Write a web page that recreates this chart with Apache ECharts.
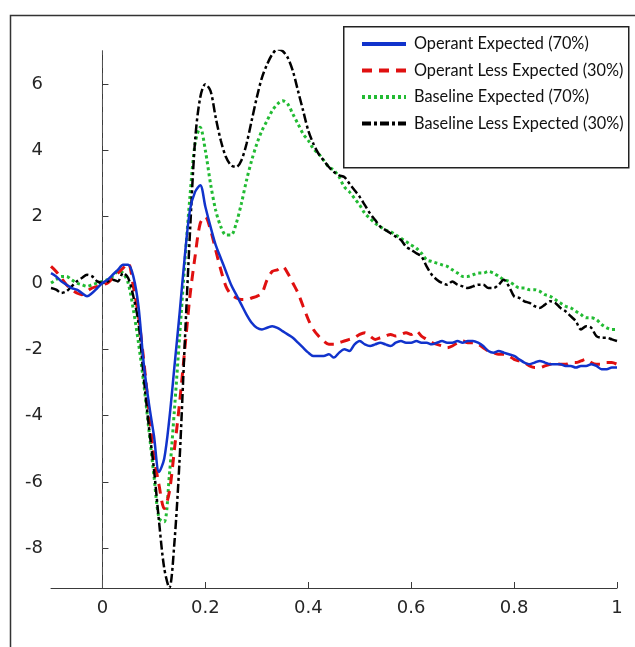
<!DOCTYPE html>
<html>
<head>
<meta charset="utf-8">
<script src="https://cdn.jsdelivr.net/npm/echarts@6/dist/echarts.min.js"></script>
<style>
  html, body { margin: 0; padding: 0; background: #fff; }
  #chart { width: 635px; height: 647px; }
</style>
</head>
<body>
<div id="chart"></div>
<script>
// time axis, -0.1 .. 1.0 in 0.01 steps
const times = [];
for (let i = -10; i <= 100; i++) times.push(+(i / 100).toFixed(2));

const seriesNames = ['Operant Expected (70%)', 'Operant Less Expected (30%)', 'Baseline Expected (70%)', 'Baseline Less Expected (30%)'];
const xTicks = [0, 0.2, 0.4, 0.6, 0.8, 1];
const yTicks = [-8, -6, -4, -2, 0, 2, 4, 6];
// stimulus onset marker (t = 0) spanning the y range
const onsetLine = [[0, -9.2], [0, 7.1]];

const operantExpected = [
  0.3, 0.2, 0.05, -0.05, -0.15, -0.2, -0.3, -0.4, -0.3, -0.15,
  0.0, 0.1, 0.25, 0.4, 0.55, 0.55, 0.2, -0.7, -2.4, -3.6,
  -4.6, -5.7, -5.3, -4.1, -2.5, -0.9, 0.8, 2.2, 2.75, 2.95,
  2.3, 1.7, 1.15, 0.75, 0.35, -0.05, -0.35, -0.65, -0.95, -1.2,
  -1.35, -1.4, -1.35, -1.3, -1.35, -1.45, -1.55, -1.65, -1.8, -1.95,
  -2.1, -2.2, -2.2, -2.2, -2.15, -2.25, -2.1, -2.0, -2.05, -1.85,
  -1.75, -1.85, -1.9, -1.85, -1.8, -1.85, -1.9, -1.8, -1.75, -1.8,
  -1.8, -1.75, -1.8, -1.8, -1.85, -1.8, -1.75, -1.8, -1.8, -1.75,
  -1.8, -1.75, -1.75, -1.8, -1.9, -2.05, -2.1, -2.05, -2.1, -2.15,
  -2.2, -2.3, -2.4, -2.45, -2.4, -2.35, -2.4, -2.45, -2.45, -2.45,
  -2.5, -2.5, -2.55, -2.5, -2.5, -2.45, -2.5, -2.6, -2.6, -2.55,
  -2.55
];
const operantLess = [
  0.5, 0.35, 0.15, -0.05, -0.2, -0.3, -0.35, -0.25, -0.15, -0.1,
  -0.05, 0.0, 0.15, 0.3, 0.45, 0.6, -0.1, -1.0, -2.3, -3.8,
  -5.2, -6.1, -6.8, -6.3, -5.0, -3.6, -2.0, -0.4, 0.8, 1.8,
  2.0, 1.6, 1.0, 0.4, -0.1, -0.35, -0.45, -0.5, -0.5, -0.45,
  -0.4, -0.3, 0.1, 0.35, 0.4, 0.5, 0.3, 0.0, -0.3, -0.7,
  -1.1, -1.4, -1.6, -1.75, -1.85, -1.85, -1.8, -1.75, -1.7, -1.65,
  -1.55, -1.5, -1.6, -1.7, -1.65, -1.6, -1.55, -1.6, -1.55, -1.5,
  -1.55, -1.45, -1.6, -1.7, -1.8, -1.85, -1.9, -1.95, -1.9, -1.8,
  -1.75, -1.8, -1.8, -1.85, -1.95, -2.05, -2.1, -2.15, -2.15, -2.2,
  -2.3, -2.35, -2.4, -2.5, -2.55, -2.55, -2.5, -2.45, -2.4, -2.45,
  -2.45, -2.4, -2.4, -2.35, -2.3, -2.4, -2.45, -2.45, -2.4, -2.4,
  -2.45
];
const baselineExpected = [
  0.0, 0.1, 0.2, 0.2, 0.1, 0.0, -0.05, -0.1, -0.05, 0.0,
  0.05, 0.1, 0.2, 0.35, 0.3, 0.0, -0.8, -1.8, -3.0, -4.4,
  -5.8, -7.1, -7.2, -5.8, -3.8, -1.6, 0.6, 2.6, 4.2, 4.7,
  4.0, 3.0, 2.2, 1.7, 1.45, 1.45, 1.8, 2.4, 3.1, 3.7,
  4.2, 4.6, 4.9, 5.2, 5.4, 5.5, 5.4, 5.1, 4.8, 4.5,
  4.3, 4.05, 3.9, 3.7, 3.5, 3.4, 3.2, 2.9, 2.75, 2.55,
  2.35, 2.1, 1.95, 1.8, 1.7, 1.6, 1.55, 1.45, 1.35, 1.25,
  1.15, 1.05, 0.9, 0.7, 0.65, 0.6, 0.55, 0.5, 0.4, 0.3,
  0.2, 0.2, 0.25, 0.3, 0.3, 0.35, 0.3, 0.2, 0.1, 0.05,
  -0.05, -0.15, -0.15, -0.2, -0.2, -0.25, -0.35, -0.4, -0.5, -0.6,
  -0.7, -0.75, -0.85, -0.95, -1.05, -1.05, -1.1, -1.25, -1.35, -1.4,
  -1.4
];
const baselineLess = [
  -0.15, -0.2, -0.3, -0.25, -0.1, 0.05, 0.15, 0.25, 0.2, 0.05,
  0.0, 0.05, 0.1, 0.05, 0.3, 0.15, -0.4, -1.2, -2.8, -4.3,
  -5.6, -7.2, -8.6, -9.2, -7.8, -5.3, -1.8, 1.5, 4.3, 5.6,
  6.0, 5.8, 5.0, 4.3, 3.8, 3.55, 3.5, 3.7, 4.2, 4.9,
  5.6, 6.2, 6.6, 6.9, 7.05, 7.0, 6.8, 6.4, 5.8, 5.2,
  4.6, 4.2, 3.9, 3.7, 3.5, 3.35, 3.25, 3.2, 3.0, 2.8,
  2.6, 2.35, 2.1, 1.9, 1.7, 1.6, 1.5, 1.4, 1.3, 1.1,
  1.0, 0.9, 0.8, 0.5, 0.25, 0.1, 0.0, -0.05, 0.05, -0.05,
  -0.1, -0.15, -0.1, -0.05, -0.05, -0.15, -0.15, -0.05, 0.1, -0.1,
  -0.4, -0.45, -0.55, -0.6, -0.7, -0.75, -0.65, -0.55, -0.6, -0.75,
  -0.85, -1.0, -1.15, -1.4, -1.3, -1.35, -1.6, -1.65, -1.65, -1.7,
  -1.75
];

const pair = (vals) => vals.map((v, i) => [times[i], v]);
const axisColor = '#3a3a3a';
const labelFont = 'DejaVu Sans';

const chart = echarts.init(document.getElementById('chart'));
chart.setOption({
  animation: false,
  backgroundColor: '#fff',
  grid: { left: 51, right: 18, top: 51, bottom: 59 },
  xAxis: {
    type: 'value',
    min: -0.1,
    max: 1,
    axisLine: { onZero: false, lineStyle: { color: axisColor, width: 1 } },
    axisTick: { inside: true, length: 6, customValues: xTicks, lineStyle: { color: axisColor } },
    axisLabel: {
      customValues: xTicks, margin: 11, color: '#262626', fontSize: 18, fontFamily: labelFont,
      formatter: (v) => String(+v.toFixed(1))
    },
    splitLine: { show: false }
  },
  yAxis: {
    type: 'value',
    min: -9.2,
    max: 7,
    axisLine: { show: true, lineStyle: { color: axisColor, width: 1 } },
    axisTick: { show: true, inside: true, length: 6, customValues: yTicks, lineStyle: { color: axisColor } },
    axisLabel: { customValues: yTicks, margin: 8, color: '#262626', fontSize: 18, fontFamily: labelFont },
    splitLine: { show: false }
  },
  legend: {
    orient: 'vertical',
    left: 355,
    top: 31,
    itemWidth: 44,
    itemHeight: 14,
    itemGap: 10.5,
    z: 10,
    itemStyle: { opacity: 0 },
    lineStyle: { width: 4 },
    textStyle: { fontSize: 16.3, color: '#111', fontFamily: 'Lato', padding: [0, 0, 0, 3] },
    data: seriesNames
  },
  graphic: [
    {
      type: 'rect', left: 8, top: 13, z: 0, silent: true,
      shape: { width: 700, height: 700 },
      style: { fill: 'none', stroke: '#333', lineWidth: 1.5 }
    },
    {
      type: 'rect', left: 343, top: 26, z: 5, silent: true,
      shape: { width: 285, height: 141 },
      style: { fill: '#fff', stroke: '#222', lineWidth: 1.5 }
    }
  ],
  series: [
    {
      name: 'onset', type: 'line', data: onsetLine, symbol: 'none', silent: true, z: 1,
      lineStyle: { color: '#555', width: 1, type: [8, 5] }
    },
    {
      name: seriesNames[0], type: 'line', data: pair(operantExpected), smooth: 0.3,
      symbol: 'none', z: 4,
      lineStyle: { color: '#1133cc', width: 2.5 }, itemStyle: { color: '#1133cc' }
    },
    {
      name: seriesNames[1], type: 'line', data: pair(operantLess), smooth: 0.3,
      symbol: 'none', z: 3,
      lineStyle: { color: '#e01010', width: 3, type: [10, 7] }, itemStyle: { color: '#e01010' }
    },
    {
      name: seriesNames[2], type: 'line', data: pair(baselineExpected), smooth: 0.3,
      symbol: 'none', z: 2,
      lineStyle: { color: '#22bb33', width: 3, type: [3, 3] }, itemStyle: { color: '#22bb33' }
    },
    {
      name: seriesNames[3], type: 'line', data: pair(baselineLess), smooth: 0.3,
      symbol: 'none', z: 3,
      lineStyle: { color: '#000', width: 2.5, type: [9, 3, 3, 3] }, itemStyle: { color: '#000' }
    }
  ]
});
</script>
</body>
</html>
